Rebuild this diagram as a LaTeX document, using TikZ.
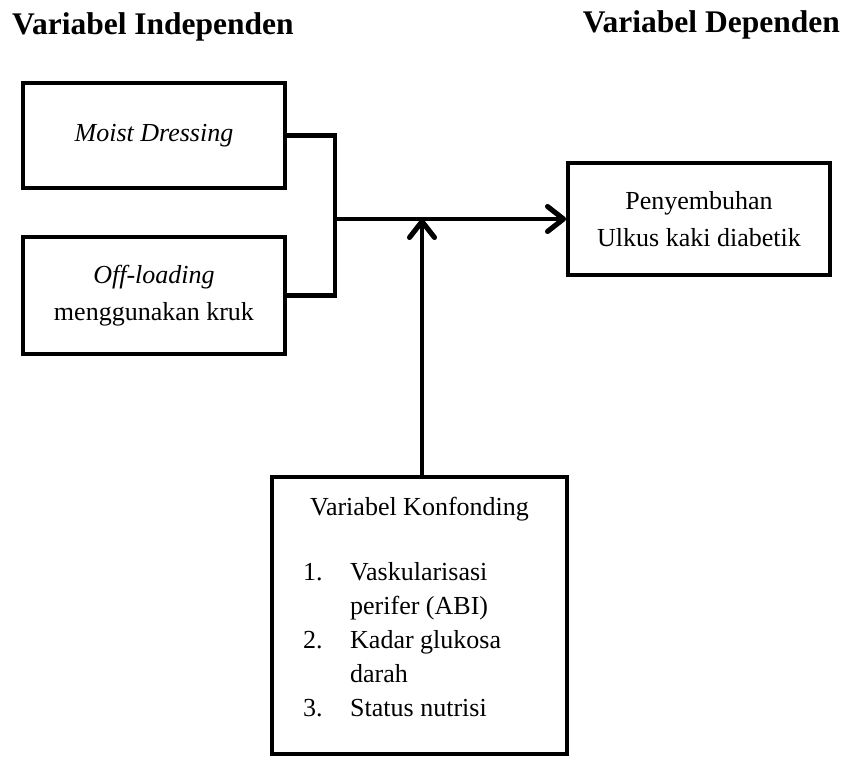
\documentclass[tikz,border=0pt]{standalone}
\usepackage{fontspec}
\setmainfont{Liberation Serif}
\usetikzlibrary{arrows.meta}
\begin{document}
\begin{tikzpicture}[x=1pt,y=-1pt,
  box/.style={draw, line width=4pt, inner sep=0pt, align=center, font=\fontsize{26}{37}\selectfont},
  conn/.style={line width=4.5pt},
  arr/.style={conn, -{Straight Barb[length=16pt,width=25pt,line width=5pt,line cap=round,line join=round]}},
  txt/.style={inner sep=0pt, font=\fontsize{26}{34}\selectfont},
  ttl/.style={inner sep=0pt, font=\fontsize{31.5}{36}\selectfont\bfseries}]
\useasboundingbox (0,0) rectangle (848,759);
\node[ttl, anchor=base west] (t1) at (12,35) {Variabel Independen};
\node[ttl, anchor=base east] (t2) at (840,33) {Variabel Dependen};
\node[box, minimum width=262pt, minimum height=105pt] (b1) at (154,135.5) {\itshape Moist Dressing};
\node[box, minimum width=262pt, minimum height=117pt] (b2) at (154,295.5) {\itshape Off-loading\\menggunakan kruk};
\node[box, minimum width=262pt, minimum height=112pt] (b3) at (699,219) {Penyembuhan\\Ulkus kaki diabetik};
\node[box, minimum width=295pt, minimum height=277pt] (b4) at (419.5,615.5) {};
\node[txt, anchor=base] (k0) at (419.5,515) {Variabel Konfonding};
\node[txt, anchor=base west] (n1) at (303,580) {1.};
\node[txt, anchor=base west] (k1) at (350,580) {Vaskularisasi};
\node[txt, anchor=base west] (k2) at (350,614) {perifer (ABI)};
\node[txt, anchor=base west] (n2) at (303,648) {2.};
\node[txt, anchor=base west] (k3) at (350,648) {Kadar glukosa};
\node[txt, anchor=base west] (k4) at (350,682) {darah};
\node[txt, anchor=base west] (n3) at (303,716) {3.};
\node[txt, anchor=base west] (k5) at (350,716) {Status nutrisi};
\coordinate (j) at (335,219);
\coordinate (v) at ([xshift=2.5pt]b4.north);
\begin{scope}[shift={(2.5,2.5)}, black!35]
  \draw[conn] (b1.east) -| (j) |- (b2.east);
  \draw[arr] (j) -- (b3.west);
  \draw[arr] (v) -- (v |- j);
\end{scope}
\draw[conn] (b1.east) -| (j) |- (b2.east);
\draw[arr] (j) -- (b3.west);
\draw[arr] (v) -- (v |- j);
\end{tikzpicture}
\end{document}
